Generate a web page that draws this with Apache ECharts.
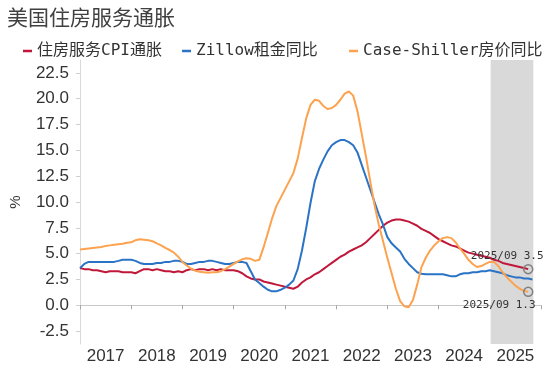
<!DOCTYPE html>
<html>
<head>
<meta charset="utf-8">
<script src="https://cdn.jsdelivr.net/npm/echarts@6/dist/echarts.min.js"></script>
<style>
html,body{margin:0;padding:0;background:#fff;}
#chart{width:550px;height:367px;}
</style>
</head>
<body>
<div id="chart"></div>
<script>
// Monthly data, index 0 = 2016/12, index 105 = 2025/09
const titleText = '美国住房服务通胀';
const seriesNames = ['住房服务CPI通胀', 'Zillow租金同比', 'Case-Shiller房价同比'];
const yearLabels = ['2017','2018','2019','2020','2021','2022','2023','2024','2025'];
const yTickValues = [-2.5, 0, 2.5, 5, 7.5, 10, 12.5, 15, 17.5, 20, 22.5];
const endLabel = '2025/09';

const cpiShelter = [
  3.6, 3.5, 3.5, 3.4, 3.4, 3.3, 3.2, 3.3, 3.3, 3.3, 3.2, 3.2,
  3.2, 3.1, 3.3, 3.5, 3.5, 3.4, 3.5, 3.4, 3.3, 3.3, 3.2, 3.3,
  3.2, 3.4, 3.5, 3.4, 3.5, 3.5, 3.4, 3.5, 3.4, 3.5, 3.4, 3.4,
  3.4, 3.3, 3.1, 2.8, 2.6, 2.5, 2.5, 2.3, 2.2, 2.1, 2.0, 1.9,
  1.8, 1.7, 1.6, 1.8, 2.2, 2.5, 2.7, 3.0, 3.2, 3.5, 3.8, 4.1,
  4.4, 4.7, 4.9, 5.2, 5.4, 5.6, 5.8, 6.1, 6.5, 6.9, 7.3, 7.7,
  8.0, 8.2, 8.3, 8.3, 8.2, 8.1, 7.9, 7.7, 7.4, 7.2, 7.0, 6.7,
  6.4, 6.2, 6.0, 5.8, 5.7, 5.5, 5.3, 5.1, 5.0, 4.9, 4.8, 4.7,
  4.6, 4.4, 4.3, 4.1, 4.0, 3.9, 3.8, 3.7, 3.6, 3.5
];
const zillowRent = [
  3.6, 4.0, 4.2, 4.2, 4.2, 4.2, 4.2, 4.2, 4.2, 4.3, 4.4, 4.4,
  4.4, 4.3, 4.1, 4.0, 4.0, 4.0, 4.1, 4.1, 4.2, 4.2, 4.3, 4.3,
  4.2, 4.0, 4.0, 4.1, 4.2, 4.2, 4.3, 4.3, 4.2, 4.1, 4.0, 4.0,
  4.1, 4.2, 4.2, 4.1, 3.3, 2.5, 2.15, 1.8, 1.5, 1.35, 1.35, 1.5,
  1.7, 2.0, 2.4, 3.5, 5.3, 7.5, 9.9, 12.0, 13.2, 14.1, 14.9, 15.5,
  15.8, 16.0, 16.0, 15.8, 15.5, 14.8, 13.6, 12.4, 11.2, 10.0, 8.8, 7.8,
  6.6, 6.0, 5.6, 5.2, 4.5, 4.0, 3.6, 3.2, 3.05, 3.0, 3.0, 3.0,
  3.0, 3.0, 2.9, 2.8, 2.8, 3.0, 3.1, 3.1, 3.2, 3.2, 3.3, 3.3,
  3.4, 3.3, 3.2, 3.1, 2.9, 2.8, 2.7, 2.7, 2.6, 2.6, 2.5
];
const caseShiller = [
  5.4, 5.45, 5.5, 5.55, 5.6, 5.65, 5.75, 5.8, 5.85, 5.9, 5.95, 6.05,
  6.1, 6.3, 6.4, 6.35, 6.3, 6.2, 6.0, 5.8, 5.55, 5.35, 5.1, 4.7,
  4.2, 3.85, 3.55, 3.35, 3.25, 3.2, 3.15, 3.2, 3.2, 3.3, 3.5, 3.75,
  4.0, 4.25, 4.45, 4.55, 4.5, 4.3, 4.4, 5.6, 7.0, 8.4, 9.6, 10.4,
  11.2, 12.0, 12.8, 14.2, 16.2, 18.1, 19.4, 19.9, 19.8, 19.3, 19.0, 19.1,
  19.4, 19.9, 20.5, 20.7, 20.3, 18.8, 16.6, 14.4, 12.0, 9.7, 7.8, 6.2,
  4.6, 3.1, 1.6, 0.4, -0.1, -0.2, 0.5, 2.0, 3.7, 4.6, 5.3, 5.8,
  6.2, 6.5, 6.6, 6.5, 6.1, 5.5, 5.0, 4.4, 4.0, 3.7, 3.8, 4.0,
  4.2, 4.2, 3.8, 3.2, 2.7, 2.3, 1.9, 1.6, 1.4, 1.3
];
const shadeRange = [96.2, 106.2]; // month indices of shaded 2025 band

const colors = ['#c0183a', '#2a73c5', '#fda24e'];
const toXY = arr => arr.map((v, i) => [i, v]);
const monoFont = '"DejaVu Sans Mono", "Noto Sans CJK SC", sans-serif';

function endPoint(arr, pos, offset) {
  const i = arr.length - 1;
  const v = arr[i];
  return {
    symbol: 'circle', symbolSize: 9, silent: true,
    data: [{
      coord: [i, v],
      itemStyle: { color: 'rgba(0,0,0,0)', borderColor: '#808080', borderWidth: 1.5 },
      label: {
        show: true, position: pos, distance: 2, offset: offset,
        formatter: endLabel + ' ' + v.toFixed(1),
        color: '#333', fontSize: 11, fontFamily: monoFont
      }
    }]
  };
}

const chart = echarts.init(document.getElementById('chart'), null, { renderer: 'canvas' });
const legendBase = {
  top: 38, icon: 'rect', itemWidth: 9, itemHeight: 2.5, itemGap: 10,
  textStyle: { color: '#333', fontSize: 16, fontFamily: monoFont }
};
chart.setOption({
  animation: false,
  backgroundColor: '#fff',
  title: {
    text: titleText, left: 2, top: 2,
    textStyle: { fontSize: 21, fontWeight: 'normal', color: '#404040', fontFamily: '"Noto Sans CJK SC", sans-serif' }
  },
  legend: [
    Object.assign({}, legendBase, { left: 18, data: [seriesNames[0]] }),
    Object.assign({}, legendBase, { left: 177, data: [seriesNames[1]] }),
    Object.assign({}, legendBase, { left: 344, data: [seriesNames[2]] })
  ],
  grid: { left: 77, right: 9, top: 60, bottom: 23 },
  xAxis: {
    type: 'value', min: 0, max: 108,
    axisLine: { show: true, lineStyle: { color: '#c8c8c8', width: 1 } },
    axisTick: { show: true, length: 4, customValues: yearLabels.map((y, k) => k * 12).concat([108]), lineStyle: { color: '#a6a6a6' } },
    axisLabel: {
      customValues: yearLabels.map((y, k) => k * 12 + 6),
      formatter: v => yearLabels[Math.round((v - 6) / 12)],
      color: '#333', fontSize: 17, margin: 4, fontFamily: '"Liberation Sans", Arial, sans-serif'
    },
    splitLine: { show: false }
  },
  yAxis: {
    type: 'value', min: -3.75, max: 23.75,
    name: '%', nameLocation: 'middle', nameRotate: 90, nameGap: 57,
    nameTextStyle: { color: '#333', fontSize: 15, fontFamily: '"Liberation Sans", Arial, sans-serif' },
    axisLine: { show: true, lineStyle: { color: '#d9d9d9', width: 1 } },
    axisTick: { show: true, length: 4, customValues: yTickValues, lineStyle: { color: '#d0d0d0' } },
    axisLabel: {
      customValues: yTickValues,
      formatter: v => v.toFixed(1),
      color: '#333', fontSize: 17, margin: 11, fontFamily: '"Liberation Sans", Arial, sans-serif'
    },
    splitLine: { show: false }
  },
  series: [
    {
      name: seriesNames[0], type: 'line', data: toXY(cpiShelter), showSymbol: false,
      lineStyle: { color: colors[0], width: 2 }, itemStyle: { color: colors[0] }, z: 3,
      markArea: {
        silent: true, itemStyle: { color: '#d9d9d9' },
        data: [[{ xAxis: shadeRange[0] }, { xAxis: shadeRange[1] }]]
      },
      markPoint: endPoint(cpiShelter, 'top', [-21, 0])
    },
    {
      name: seriesNames[1], type: 'line', data: toXY(zillowRent), showSymbol: false,
      lineStyle: { color: colors[1], width: 2 }, itemStyle: { color: colors[1] }, z: 3
    },
    {
      name: seriesNames[2], type: 'line', data: toXY(caseShiller), showSymbol: false,
      lineStyle: { color: colors[2], width: 2 }, itemStyle: { color: colors[2] }, z: 3,
      markPoint: endPoint(caseShiller, 'bottom', [-29, 1])
    }
  ]
});
</script>
</body>
</html>
